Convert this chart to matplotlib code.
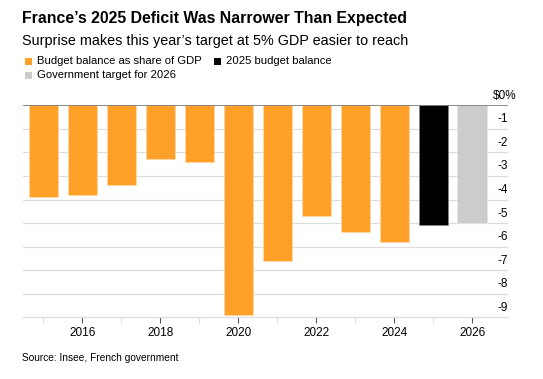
import numpy as np
import matplotlib.pyplot as plt
from matplotlib.patches import Rectangle
from matplotlib.transforms import blended_transform_factory, offset_copy

plt.rcParams['font.family'] = ['Liberation Sans', 'DejaVu Sans']

# Data (budget balance, % of GDP)
years = [2015, 2016, 2017, 2018, 2019, 2020, 2021, 2022, 2023, 2024]
balance = [-3.9, -3.8, -3.4, -2.3, -2.4, -8.9, -6.6, -4.7, -5.4, -5.8]
year_2025 = 2025
balance_2025 = -5.1
year_2026 = 2026
target_2026 = -5.0

yticks = [0, -1, -2, -3, -4, -5, -6, -7, -8, -9]
ylabels = ['$0%', '-1', '-2', '-3', '-4', '-5', '-6', '-7', '-8', '-9']
xticks = [2016, 2018, 2020, 2022, 2024, 2026]

orange = '#FFA028'
grey = '#CCCCCC'

fig = plt.figure(figsize=(5.43, 3.79), dpi=100)
ax = fig.add_axes([0.0424, 0.1628, 0.8931, 0.5594])

w = 0.75
ax.bar(years, balance, width=w, color=orange, edgecolor='#FFD9A8', linewidth=0.5, zorder=3)
ax.bar([year_2025], [balance_2025], width=w, color='black', edgecolor='#888888', linewidth=0.5, zorder=3)
ax.bar([year_2026], [target_2026], width=w, color=grey, edgecolor='#E6E6E6', linewidth=0.5, zorder=3)

ax.set_xlim(2014.48, 2026.92)
ax.set_ylim(-9, 0)

# gridlines
for t in yticks[1:-1]:
    ax.axhline(t, color='#DDDDDD', lw=0.9, zorder=1)
ax.axhline(0, color='#777777', lw=1.2, zorder=4)

for s in ['top', 'left', 'right']:
    ax.spines[s].set_visible(False)
ax.spines['bottom'].set_color('#DDDDDD')
ax.spines['bottom'].set_linewidth(0.9)

ax.set_yticks([])
ax.set_xticks(xticks)
ax.set_xticklabels([str(x) for x in xticks], fontsize=8.5)
ax.set_xticks([x + 1 for x in xticks[:-1]] + [2015], minor=True)
ax.tick_params(axis='x', which='major', length=4, width=0.8, color='#555555', pad=3)
ax.tick_params(axis='x', which='minor', length=4, width=0.8, color='#DDDDDD')

# y labels sit above gridlines at the right end
trans = blended_transform_factory(ax.transAxes, ax.transData)
trans = offset_copy(trans, fig=fig, x=0, y=2.5, units='points')
for t, lab in zip(yticks, ylabels):
    xo = 1.0 if t != 0 else 1.018
    ax.text(xo, t, lab, transform=trans, ha='right', va='bottom', fontsize=8.5, clip_on=False)

# titles
fig.text(0.041, 0.950, 'France\u2019s 2025 Deficit Was Narrower Than Expected',
         fontsize=11.4, fontweight='bold', va='center', ha='left')
fig.text(0.041, 0.893, 'Surprise makes this year\u2019s target at 5% GDP easier to reach',
         fontsize=10.4, va='center', ha='left')

# legend
items = [(0.046, 0.838, orange, 'Budget balance as share of GDP'),
         (0.394, 0.838, 'black', '2025 budget balance'),
         (0.046, 0.801, grey, 'Government target for 2026')]
for x0, y0, c, lab in items:
    fig.patches.append(Rectangle((x0, y0 - 0.0095), 0.0125, 0.018, transform=fig.transFigure,
                                 facecolor=c, edgecolor='none'))
    fig.text(x0 + 0.023, y0, lab, fontsize=8.1, va='center', ha='left')

fig.text(0.041, 0.055, 'Source: Insee, French government', fontsize=7.3, va='center', ha='left')

fig.savefig('out.png', dpi=100)
